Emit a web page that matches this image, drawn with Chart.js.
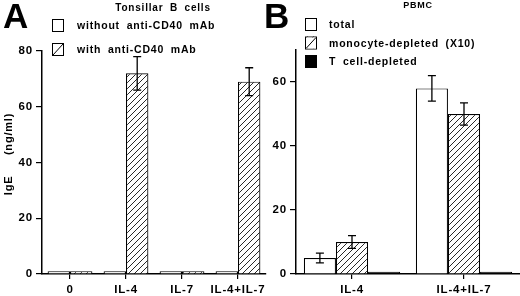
<!DOCTYPE html>
<html><head><meta charset="utf-8">
<script src="https://cdn.jsdelivr.net/npm/chart.js@4/dist/chart.umd.min.js"></script>
<style>
html,body{margin:0;padding:0;background:#fff;}
#wrap{position:relative;width:520px;height:296px;overflow:hidden;background:#fff;}
canvas{position:absolute;top:0;}
#ca{left:0;} #cb{left:260px;}
</style></head><body>
<div id="wrap">
<canvas id="ca" width="270" height="296"></canvas>
<canvas id="cb" width="260" height="296"></canvas>
</div>
<script>
// ---- data ----
const catsA = ['0', 'IL-4', 'IL-7', 'IL-4+IL-7'];
const withoutA = [1, 1, 1, 1];
const withA = [1, 72, 1, 69];
const withErrA = [0, 6, 0, 5];
const ticksA = [0, 20, 40, 60, 80];

const catsB = ['IL-4', 'IL-4+IL-7'];
const totalB = [5, 58];
const totalErrB = [1.5, 4];
const monoB = [10, 50];
const monoErrB = [2, 3.5];
const tDepB = [0.7, 0.7];
const ticksB = [0, 20, 40, 60];

const FONT = "'Liberation Sans', Arial, Helvetica, sans-serif";

function hatch() {
  const c = document.createElement('canvas'); c.width = 6; c.height = 6;
  const x = c.getContext('2d');
  x.fillStyle = '#fff'; x.fillRect(0, 0, 6, 6);
  x.strokeStyle = '#111'; x.lineWidth = 0.9;
  x.beginPath();
  x.moveTo(0, 6); x.lineTo(6, 0);
  x.moveTo(-1, 1); x.lineTo(1, -1);
  x.moveTo(5, 7); x.lineTo(7, 5);
  x.stroke();
  return x.createPattern(c, 'repeat');
}
const HATCH = hatch();

const spacingPlugin = {
  id: 'spacing',
  beforeDraw(chart) {
    chart.ctx.letterSpacing = '0.8px';
    chart.ctx.wordSpacing = '3px';
  }
};

const errPlugin = {
  id: 'err',
  afterDatasetsDraw(chart) {
    const ctx = chart.ctx, ys = chart.scales.y;
    chart.data.datasets.forEach((ds, di) => {
      if (!ds.err) return;
      const meta = chart.getDatasetMeta(di);
      meta.data.forEach((el, i) => {
        const e = ds.err[i]; if (!e) return;
        const v = ds.data[i];
        const x = el.x, t = ys.getPixelForValue(v + e), b = ys.getPixelForValue(v - e);
        ctx.save();
        ctx.strokeStyle = '#000'; ctx.lineWidth = 1.3;
        ctx.beginPath();
        ctx.moveTo(x, t); ctx.lineTo(x, b);
        ctx.moveTo(x - 4, t); ctx.lineTo(x + 4, t);
        ctx.moveTo(x - 4, b); ctx.lineTo(x + 4, b);
        ctx.stroke();
        ctx.restore();
      });
    });
  }
};

function decorPlugin(cfg) {
  return {
    id: 'decor',
    afterDraw(chart) {
      const ctx = chart.ctx;
      ctx.save();
      ctx.fillStyle = '#000';
      ctx.letterSpacing = '0px'; ctx.wordSpacing = '0px';
      ctx.font = 'bold 35px ' + FONT;
      ctx.textBaseline = 'alphabetic'; ctx.textAlign = 'left';
      ctx.fillText(cfg.letter, cfg.letterX, 28);
      ctx.letterSpacing = '0.8px'; ctx.wordSpacing = '3px';
      ctx.font = 'bold ' + cfg.titleSize + 'px ' + FONT;
      ctx.textAlign = 'center'; ctx.textBaseline = 'middle';
      ctx.fillText(cfg.title, cfg.titleX, cfg.titleY);
      if (cfg.yTitle) {
        ctx.save();
        ctx.font = 'bold 11px ' + FONT;
        ctx.translate(8.5, cfg.yTitleY);
        ctx.rotate(-Math.PI / 2);
        ctx.fillText(cfg.yTitle, 0, 0);
        ctx.restore();
      }
      ctx.font = 'bold 10.5px ' + FONT;
      ctx.textAlign = 'left';
      chart.data.datasets.forEach((ds, i) => {
        const y = cfg.legY + i * cfg.legStep;
        ctx.fillStyle = ds.backgroundColor;
        ctx.fillRect(cfg.legX, y, 11, 12);
        ctx.strokeStyle = '#000'; ctx.lineWidth = 1;
        ctx.strokeRect(cfg.legX + 0.5, y + 0.5, 11, 12);
        if (ds.backgroundColor === HATCH) {
          ctx.fillStyle = '#fff'; ctx.fillRect(cfg.legX + 1, y + 1, 10, 11);
          ctx.beginPath(); ctx.moveTo(cfg.legX + 1, y + 12); ctx.lineTo(cfg.legX + 11, y + 1); ctx.stroke();
        }
        ctx.fillStyle = '#000';
        ctx.fillText(ds.label, cfg.legX + cfg.textOff, y + 7.5);
      });
      ctx.restore();
    }
  };
}

function scales(ticksArr, max, yWidth) {
  return {
    x: {
      offset: true,
      grid: { offset: false, drawOnChartArea: false, drawTicks: true, tickLength: 5, color: '#000', lineWidth: 1.2 },
      border: { display: true, color: '#000', width: 1.5 },
      ticks: { color: '#000', font: { family: FONT, weight: 'bold', size: 11.5 }, padding: 4, maxRotation: 0, autoSkip: false },
      afterFit: s => { s.height = 22; }
    },
    y: {
      min: 0, max: max,
      afterBuildTicks: s => { s.ticks = ticksArr.map(v => ({ value: v })); },
      grid: { drawOnChartArea: false, drawTicks: true, tickLength: 6, color: '#000', lineWidth: 1.2 },
      border: { display: true, color: '#000', width: 1.5 },
      ticks: { color: '#000', font: { family: FONT, weight: 'bold', size: 11.5 }, padding: 3 },
      afterFit: s => { s.width = yWidth; }
    }
  };
}

const common = {
  responsive: false,
  animation: false,
  devicePixelRatio: 1,
  plugins: { legend: { display: false }, tooltip: { enabled: false } },
};

new Chart(document.getElementById('ca'), {
  type: 'bar',
  data: {
    labels: catsA,
    datasets: [
      { label: 'without anti-CD40 mAb', data: withoutA, backgroundColor: '#fff', borderColor: '#000', borderWidth: 1.2 },
      { label: 'with anti-CD40 mAb', data: withA, err: withErrA, backgroundColor: HATCH, borderColor: '#000', borderWidth: 1.2 }
    ]
  },
  options: Object.assign({}, common, {
    layout: { padding: { top: 51, right: 4, left: 0, bottom: 0 } },
    datasets: { bar: { categoryPercentage: 0.8, barPercentage: 1.0, borderSkipped: 'bottom' } },
    scales: scales(ticksA, 80, 42)
  }),
  plugins: [spacingPlugin, errPlugin, decorPlugin({
    letter: 'A', letterX: 3, title: 'Tonsillar B cells', titleSize: 10, titleX: 163, titleY: 8,
    legX: 52, legY: 19, legStep: 24, textOff: 25, yTitle: 'IgE   (ng/ml)', yTitleY: 154
  })]
});

new Chart(document.getElementById('cb'), {
  type: 'bar',
  data: {
    labels: catsB,
    datasets: [
      { label: 'total', data: totalB, err: totalErrB, backgroundColor: '#fff', borderColor: '#000', borderWidth: 1.2 },
      { label: 'monocyte-depleted (X10)', data: monoB, err: monoErrB, backgroundColor: HATCH, borderColor: '#000', borderWidth: 1.2 },
      { label: 'T cell-depleted', data: tDepB, backgroundColor: '#000', borderColor: '#000', borderWidth: 1.2 }
    ]
  },
  options: Object.assign({}, common, {
    layout: { padding: { top: 50, right: 0, left: 0, bottom: 0 } },
    datasets: { bar: { categoryPercentage: 0.86, barPercentage: 1.0, borderSkipped: 'bottom' } },
    scales: scales(ticksB, 70, 36)
  }),
  plugins: [spacingPlugin, errPlugin, decorPlugin({
    letter: 'B', letterX: 4, title: 'PBMC', titleSize: 9, titleX: 158, titleY: 6,
    legX: 45, legY: 18, legStep: 18.5, textOff: 24
  })]
});
</script>
</body></html>
